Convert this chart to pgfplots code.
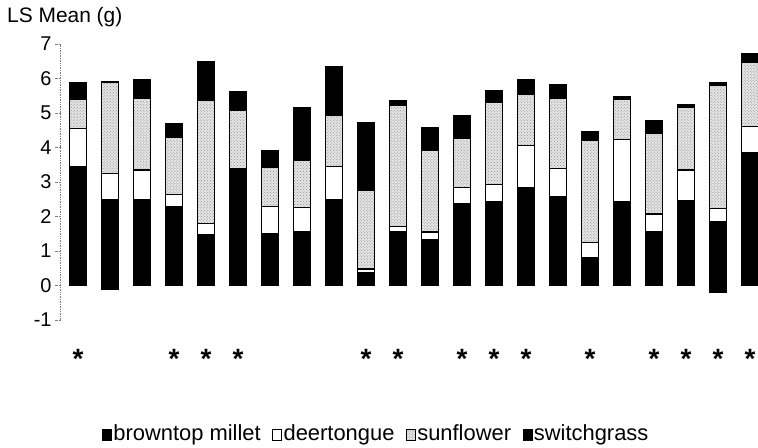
\documentclass[border=0pt]{standalone}
\usepackage{fontspec}
\setmainfont{Liberation Sans}
\usepackage{pgfplots}
\pgfplotsset{compat=1.18}
\usepackage{pgfplotstable}
\usetikzlibrary{patterns}

% neg = part of the black base drawn below zero
\pgfplotstableread{
i  neg   brown deer sun  sw
1  0     3.45  1.10 0.84 0.48
2  -0.11 2.49  0.76 2.64 0.02
3  0     2.48  0.87 2.08 0.54
4  0     2.30  0.33 1.67 0.39
5  0     1.47  0.33 3.56 1.13
6  0     3.38  0.00 1.69 0.55
7  0     1.51  0.78 1.14 0.48
8  0     1.57  0.70 1.35 1.55
9  0     2.48  0.98 1.47 1.42
10 0     0.38  0.10 2.27 1.98
11 0     1.57  0.15 3.50 0.14
12 0     1.33  0.22 2.36 0.67
13 0     2.38  0.45 1.42 0.68
14 0     2.42  0.51 2.38 0.34
15 0     2.83  1.23 1.48 0.43
16 0     2.58  0.80 2.04 0.41
17 0     0.82  0.43 2.95 0.27
18 0     2.42  1.81 1.17 0.08
19 0     1.57  0.50 2.35 0.35
20 0     2.45  0.90 1.80 0.09
21 -0.20 1.86  0.37 3.57 0.07
22 0     3.86  0.75 1.86 0.25
}\datatable

\pgfplotstableread{
i  y
1  -2.12
4  -2.12
5  -2.12
6  -2.12
10 -2.12
11 -2.12
13 -2.12
14 -2.12
15 -2.12
17 -2.12
19 -2.12
20 -2.12
21 -2.12
22 -2.12
}\startable

\begin{document}
\begin{tikzpicture}
\begin{axis}[
  scale only axis, width=698bp, height=276bp,
  xmin=0.4375, xmax=22.25, ymin=-1, ymax=7,
  clip=false,
  ybar stacked, bar width=0.53,
  axis x line=none, axis y line*=left,
  y axis line style={densely dotted, gray, line width=0.7bp},
  ytick={-1,0,1,2,3,4,5,6,7},
  ytick style={densely dotted, gray, line width=0.7bp},
  tick align=outside, major tick length=5bp,
  yticklabel style={font=\fontsize{20}{24}\selectfont, /pgf/number format/assume math mode=true},
  every axis plot/.append style={draw=black, line width=1.2bp},
  legend columns=-1,
  legend style={at={(axis description cs:0.5,0)}, anchor=center, xshift=-33bp, yshift=-113bp,
    draw=none, fill=none, font=\fontsize{22}{26}\selectfont, inner sep=0pt,
    nodes={inner sep=1.5bp},
    /tikz/every even column/.append style={column sep=10bp}},
  legend image code/.code={\draw[#1, line width=0.8bp] (0bp,-7bp) rectangle (9bp,4bp);},
]
\coordinate (o) at (rel axis cs:0,0);
\addplot[fill=black, forget plot] table[x=i, y=neg] {\datatable};
\addplot[fill=black] table[x=i, y=brown] {\datatable};
\addlegendentry{browntop millet}
\addplot[fill=white] table[x=i, y=deer] {\datatable};
\addlegendentry{deertongue}
\addplot[fill=gray!20, postaction={pattern=crosshatch dots, pattern color=gray!90}] table[x=i, y=sun] {\datatable};
\addlegendentry{sunflower}
\addplot[fill=black] table[x=i, y=sw] {\datatable};
\addlegendentry{switchgrass}
\node[anchor=base west, inner sep=0pt, font=\fontsize{21}{25}\selectfont] at ([xshift=-53bp, yshift=22bp]rel axis cs:0,1) {LS Mean (g)};
\end{axis}
\begin{axis}[
  scale only axis, width=698bp, height=276bp,
  xmin=0.4375, xmax=22.25, ymin=-1, ymax=7,
  hide axis, clip=false,
]
\addplot[draw=none, mark=none, nodes near coords={\bfseries *}, nodes near coords align=center,
  every node near coord/.append style={font=\fontsize{28}{32}\selectfont, inner sep=0pt}]
  table[x=i, y=y] {\startable};
\end{axis}
\pgfresetboundingbox
\path[use as bounding box] (o) ++(-60bp,-128bp) rectangle ++(758bp,448bp);
\end{tikzpicture}
\end{document}
